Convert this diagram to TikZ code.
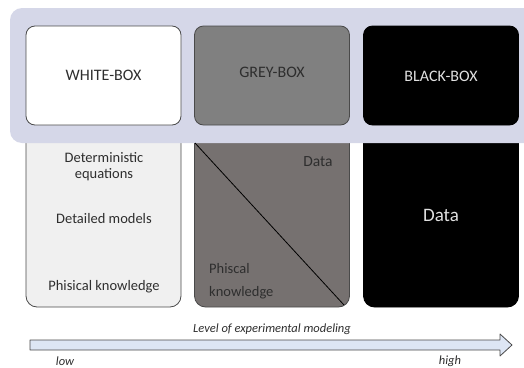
\documentclass[tikz,border=0pt]{standalone}
\usepackage{fontspec}
\setmainfont{Carlito}
\definecolor{panelblue}{HTML}{D5D7E8}
\definecolor{lightbox}{HTML}{F0F0F0}
\definecolor{midgrey}{HTML}{808080}
\definecolor{darkgrey}{HTML}{767170}
\definecolor{edge}{HTML}{4A4A4A}
\definecolor{txt}{HTML}{2E2E2E}
\definecolor{arrowfill}{HTML}{DDE6F5}
\tikzset{
  topbox/.style={
    draw=edge, rectangle, rounded corners=9pt, minimum height=99pt, minimum width=155pt, line width=0.8pt
  },
  lowbox/.style={
    draw=edge, rectangle, rounded corners=11pt, minimum height=207pt, minimum width=155pt, line width=0.8pt
  },
  boxtext/.style={
    text=txt, font=\fontsize{16}{18}\selectfont, inner sep=0pt
  },
  lowtext/.style={
    text=txt, font=\fontsize{14.5}{16}\selectfont, inner sep=0pt, align=center
  },
  axistext/.style={
    text=txt, font=\fontsize{12.5}{15}\selectfont\itshape, inner sep=0pt
  }
}
\begin{document}
\begin{tikzpicture}[x=1pt,y=-1pt]
 \useasboundingbox (0,0) rectangle (524,367);
 % lower boxes
 \node[lowbox, fill=lightbox] at (103.5,203.5) (lwhite) {};
 \node[lowbox, fill=darkgrey] at (272,203.5) (lgrey) {};
 \node[lowbox, fill=black, draw=black] at (441,203.5) (lblack) {};
 % panel with the three classes
 \fill[panelblue, rounded corners=12pt] (10,8) rectangle (540,143);
 \node[topbox, fill=white] at (103.5,75.5) (white) {};
 \node[topbox, fill=midgrey] at (272,75.5) (grey) {};
 \node[topbox, fill=black, draw=black] at (441,75.5) (black) {};
 \node[boxtext] at (white) {WHITE-BOX};
 \node[boxtext] at ([yshift=3pt]grey.center) {GREY-BOX};
 \node[boxtext, text=white!88!black] at ([yshift=-1pt]black.center) {BLACK-BOX};

 \coordinate (dstart) at (195,143);
 \coordinate (dend) at (344,305);
 \draw[line width=0.8pt] (dstart) -- (dend);

 \node[lowtext] at (104,167) (det) {Deterministic\\equations};
 \node[lowtext] at (104,219) (dm) {Detailed models};
 \node[lowtext] at (104,287) (pk) {Phisical knowledge};
 \node[lowtext, font=\fontsize{15.5}{18}\selectfont] at (318,162) (gdata) {Data};
 \node[lowtext, align=left, anchor=west, font=\fontsize{14.5}{23}\selectfont] at (209,281.5) (gpk) {Phiscal\\knowledge};
 \node[lowtext, text=white!88!black, font=\fontsize{19}{20}\selectfont] at (441,215) (bdata) {Data};

 % axis
 \coordinate (tail) at (30,345);
 \coordinate (tip) at (512,345);
 \draw[edge, fill=arrowfill, line width=0.8pt, line join=round]
   ([yshift=-5pt]tail) -- ([xshift=-12pt,yshift=-5pt]tip) -- ([xshift=-12pt,yshift=-11pt]tip) -- (tip)
   -- ([xshift=-12pt,yshift=11pt]tip) -- ([xshift=-12pt,yshift=5pt]tip) -- ([yshift=5pt]tail) -- cycle;
 \node[axistext] at (272,329) (level) {Level of experimental modeling};
 \node[axistext] at (65,361) (low) {low};
 \node[axistext] at (450,361) (high) {high};
\end{tikzpicture}
\end{document}
